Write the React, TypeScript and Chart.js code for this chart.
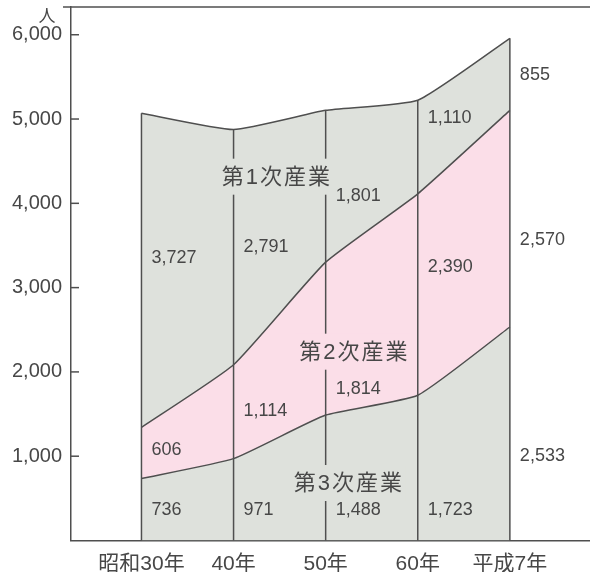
import React, { useEffect, useRef } from "react";
import { Chart, registerables } from "chart.js";

Chart.register(...registerables);

// ---- data ----
const categories = ["昭和30年", "40年", "50年", "60年", "平成7年"];
const seriesNames = ["第3次産業", "第2次産業", "第1次産業"];
const tertiary = [736, 971, 1488, 1723, 2533];
const secondary = [606, 1114, 1814, 2390, 2570];
const primary = [3727, 2791, 1801, 1110, 855];
const yTickValues = [1000, 2000, 3000, 4000, 5000, 6000];
const unitLabel = "人";

// level (in 人) at which each value label is written
const tertiaryLabelAt = [360, 360, 360, 360, 1000];
const secondaryLabelAt = [1070, 1540, 1800, 3250, 3560];
const primaryLabelAt = [3350, 3480, 4090, 5010, 5520];
// anchor of each industry name (x in category index, y in 人)
const nameAnchorX = [2.24, 2.3, 1.46];
const nameAnchorY = [682, 2240, 4316];

const GRAY = "#dee1dc";
const PINK = "#fbdee8";
const LINE = "#4f4f4f";
const TEXT = "#474747";
const FONT = "'Liberation Sans', 'Noto Sans CJK JP', sans-serif";

const fmt = (v: number) => v.toLocaleString("en-US");

const overlayPlugin = {
  id: "overlay",
  afterDatasetsDraw(chart: any) {
    const { ctx, chartArea } = chart;
    const xs = chart.scales.x;
    const ys = chart.scales.y;
    const series = [tertiary, secondary, primary];
    const labelAt = [tertiaryLabelAt, secondaryLabelAt, primaryLabelAt];
    const bgs = [GRAY, PINK, GRAY];
    ctx.save();

    // vertical lines at each category
    ctx.strokeStyle = LINE;
    ctx.lineWidth = 1.5;
    categories.forEach((_, i) => {
      const total = tertiary[i] + secondary[i] + primary[i];
      const px = xs.getPixelForValue(i);
      ctx.beginPath();
      ctx.moveTo(px, ys.getPixelForValue(0));
      ctx.lineTo(px, ys.getPixelForValue(total));
      ctx.stroke();
    });

    // industry names with covering background
    ctx.font = `22px ${FONT}`;
    (ctx as any).letterSpacing = "2px";
    ctx.textAlign = "left";
    ctx.textBaseline = "middle";
    seriesNames.forEach((name, s) => {
      const cx = xs.getPixelForValue(nameAnchorX[s]);
      const cy = ys.getPixelForValue(nameAnchorY[s]);
      const w = ctx.measureText(name).width;
      ctx.fillStyle = bgs[s];
      ctx.fillRect(cx - w / 2 - 3, cy - 18, w + 6, 36);
      ctx.fillStyle = TEXT;
      ctx.fillText(name, cx - w / 2 + 1, cy + 1);
    });
    (ctx as any).letterSpacing = "0px";

    // value labels
    ctx.font = `18px ${FONT}`;
    ctx.textAlign = "left";
    ctx.fillStyle = TEXT;
    series.forEach((vals, s) => {
      vals.forEach((v, i) => {
        const px = xs.getPixelForValue(i) + 10;
        const py = ys.getPixelForValue(labelAt[s][i]);
        ctx.fillText(fmt(v), px, py);
      });
    });

    // y tick marks pointing inward
    ctx.strokeStyle = LINE;
    ctx.lineWidth = 1.5;
    yTickValues.forEach((t) => {
      const py = ys.getPixelForValue(t);
      ctx.beginPath();
      ctx.moveTo(chartArea.left, py);
      ctx.lineTo(chartArea.left + 8, py);
      ctx.stroke();
    });

    // top frame line
    ctx.beginPath();
    ctx.moveTo(chartArea.left - 8, chartArea.top);
    ctx.lineTo(chart.width, chartArea.top);
    ctx.stroke();

    // unit label
    ctx.font = `17px ${FONT}`;
    ctx.textAlign = "center";
    ctx.fillStyle = TEXT;
    ctx.fillText(unitLabel, chartArea.left - 24, chartArea.top + 10);

    ctx.restore();
  },
};

export default function App() {
  const ref = useRef<HTMLCanvasElement>(null);

  useEffect(() => {
    if (!ref.current) return;
    const toPts = (arr: number[]) => arr.map((v, i) => ({ x: i, y: v }));
    const lineOpts = {
      borderColor: LINE,
      borderWidth: 1.5,
      pointRadius: 0,
      tension: 0.15,
    };
    const noPad = (scale: any) => {
      scale.paddingTop = 0;
      scale.paddingBottom = 0;
      scale.paddingLeft = 0;
      scale.paddingRight = 0;
    };
    const chart = new Chart(ref.current, {
      type: "line",
      data: {
        datasets: [
          { label: seriesNames[0], data: toPts(tertiary), fill: "origin", backgroundColor: GRAY, ...lineOpts },
          { label: seriesNames[1], data: toPts(secondary), fill: "-1", backgroundColor: PINK, ...lineOpts },
          { label: seriesNames[2], data: toPts(primary), fill: "-1", backgroundColor: GRAY, ...lineOpts },
        ],
      },
      options: {
        animation: false,
        responsive: false,
        devicePixelRatio: 1,
        layout: { padding: { top: 7, right: 0, left: 0, bottom: 0 } },
        plugins: { legend: { display: false }, tooltip: { enabled: false } },
        scales: {
          x: {
            type: "linear",
            min: -0.765,
            max: 4.87,
            afterBuildTicks: (axis: any) => {
              axis.ticks = categories.map((_, i) => ({ value: i }));
            },
            afterFit: (scale: any) => {
              scale.height = 31.5;
              noPad(scale);
            },
            grid: { drawOnChartArea: false, drawTicks: false },
            border: { display: true, color: LINE, width: 1.5 },
            ticks: {
              autoSkip: false,
              maxRotation: 0,
              padding: 11,
              color: TEXT,
              font: { size: 21, family: FONT },
              callback: (v: any) => categories[Number(v)] ?? "",
            },
          },
          y: {
            type: "linear",
            stacked: true,
            min: 0,
            max: 6329,
            afterBuildTicks: (axis: any) => {
              axis.ticks = yTickValues.map((v) => ({ value: v }));
            },
            afterFit: (scale: any) => {
              scale.width = 71;
              noPad(scale);
            },
            grid: { drawOnChartArea: false, drawTicks: false },
            border: { display: true, color: LINE, width: 1.5 },
            ticks: {
              padding: 9,
              color: TEXT,
              font: { size: 20, family: FONT },
              callback: (v: any) => fmt(Number(v)),
            },
          },
        },
      },
      plugins: [overlayPlugin],
    } as any);
    return () => chart.destroy();
  }, []);

  return (
    <div style={{ position: "absolute", left: 0, top: 0, width: 590, height: 572, background: "#fff" }}>
      <canvas ref={ref} width={590} height={572} style={{ width: 590, height: 572, display: "block" }} />
    </div>
  );
}
